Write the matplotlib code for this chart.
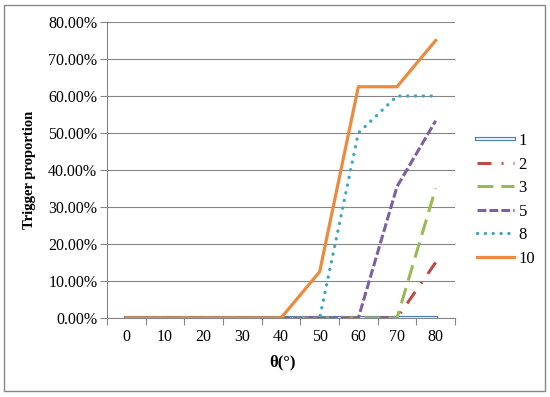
import matplotlib
matplotlib.use("Agg")
import matplotlib.pyplot as plt
import matplotlib.patheffects as pe
from matplotlib.patches import Rectangle
from matplotlib.ticker import FixedLocator, PercentFormatter

plt.rcParams['font.family'] = ['Liberation Serif', 'DejaVu Serif']

categories = ["0", "10", "20", "30", "40", "50", "60", "70", "80"]
series_names = ["1", "2", "3", "5", "8", "10"]
s1 = [0, 0, 0, 0, 0, 0, 0, 0, 0]
s2 = [0, 0, 0, 0, 0, 0, 0, 0, 15.0]
s3 = [0, 0, 0, 0, 0, 0, 0, 0, 35.0]
s5 = [0, 0, 0, 0, 0, 0, 0, 35.5, 53.3]
s8 = [0, 0, 0, 0, 0, 0, 50.0, 60.0, 60.0]
s10 = [0, 0, 0, 0, 0, 12.5, 62.5, 62.5, 75.0]
y_ticks = [0, 10, 20, 30, 40, 50, 60, 70, 80]

W, H = 550, 397
fig = plt.figure(figsize=(W / 100, H / 100), dpi=100)
ax = fig.add_axes([107 / W, 1 - 318 / H, (455 - 107) / W, (318 - 22) / H])

x = list(range(len(categories)))
grid_c = '#868686'

ax.plot(x, s1, color='#f4f8fc', lw=1.3, label=series_names[0],
        path_effects=[pe.Stroke(linewidth=3.0, foreground='#4a7ebb'), pe.Normal()])
ax.plot(x, s2, color='#be4b48', lw=2.2, dashes=(4.6, 3.3, 0.6, 3.3), label=series_names[1])
ax.plot(x, s3, color='#98b954', lw=2.2, dashes=(5.2, 2.6), label=series_names[2])
ax.plot(x, s5, color='#7d60a0', lw=2.2, dashes=(2.9, 1.0), label=series_names[3])
ax.plot(x, s8, color='#3fa6c2', lw=2.4, dashes=(0.05, 2.3), dash_capstyle='round',
        label=series_names[4])
ax.plot(x, s10, color='#ec8a3e', lw=2.3, label=series_names[5])

ax.set_xlim(-0.5, len(categories) - 0.5)
ax.set_ylim(0, 80)
ax.yaxis.set_major_locator(FixedLocator(y_ticks))
ax.yaxis.set_major_formatter(PercentFormatter(decimals=2))
ax.set_xticks(x)
ax.set_xticklabels(categories)
ax.set_xticks([i - 0.5 for i in range(len(categories) + 1)], minor=True)
ax.tick_params(axis='x', which='major', length=0, pad=8, labelsize=11.5)
ax.tick_params(axis='x', which='minor', length=5, color=grid_c, width=0.8)
ax.tick_params(axis='y', length=5, color=grid_c, width=0.8, labelsize=11.5, pad=2)
ax.grid(axis='y', color=grid_c, lw=0.8)
ax.set_axisbelow(True)
for s in ['top', 'right']:
    ax.spines[s].set_visible(False)
for s in ['left', 'bottom']:
    ax.spines[s].set_color(grid_c)
    ax.spines[s].set_linewidth(0.8)

fig.text(30 / W, 1 - 170 / H, "Trigger proportion", rotation=90, ha='center', va='center',
         fontsize=10.5, fontweight='bold')
fig.text(283 / W, 1 - 362 / H, "θ(°)", ha='center', va='center', fontsize=12, fontweight='bold')

leg = fig.legend(loc='center left', bbox_to_anchor=(477 / W, 1 - 200 / H), frameon=False,
                 fontsize=12, handlelength=2.2, labelspacing=0.45, handletextpad=0.3,
                 borderpad=0, borderaxespad=0)

fig.patches.append(Rectangle((4 / W, 1 - 391 / H), (545 - 4) / W, (391 - 5) / H,
                             transform=fig.transFigure, fill=False, edgecolor=grid_c, lw=1))

fig.savefig("out.png", dpi=100)
